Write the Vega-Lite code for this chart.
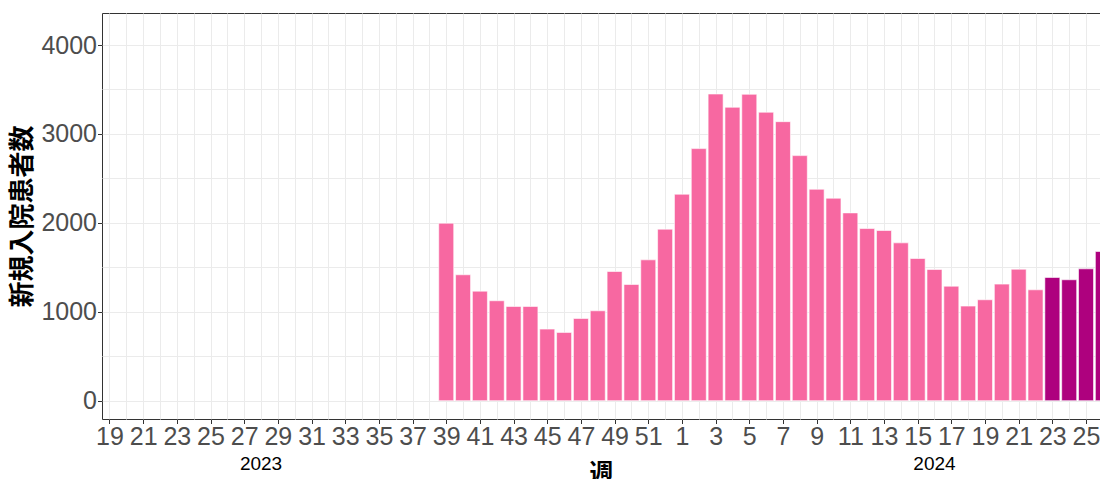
{
  "$schema": "https://vega.github.io/schema/vega-lite/v6.json",
  "autosize": "none",
  "width": 998,
  "height": 406,
  "padding": {"left": 102, "top": 13, "right": 0, "bottom": 60},
  "background": "white",
  "config": {
    "view": {"stroke": "#333333", "strokeWidth": 1},
    "axis": {
      "labelFont": "Liberation Sans",
      "labelFontSize": 25,
      "labelColor": "#4D4D4D",
      "gridColor": "#EBEBEB",
      "gridWidth": 1,
      "domain": false,
      "tickSize": 4.5,
      "tickWidth": 1
    }
  },
  "layer": [
    {
      "data": {
        "values": [
          {"date": "2023-10-01", "patients": 1996, "status": "確定"},
          {"date": "2023-10-08", "patients": 1416, "status": "確定"},
          {"date": "2023-10-15", "patients": 1232, "status": "確定"},
          {"date": "2023-10-22", "patients": 1124, "status": "確定"},
          {"date": "2023-10-29", "patients": 1060, "status": "確定"},
          {"date": "2023-11-05", "patients": 1060, "status": "確定"},
          {"date": "2023-11-12", "patients": 805, "status": "確定"},
          {"date": "2023-11-19", "patients": 768, "status": "確定"},
          {"date": "2023-11-26", "patients": 925, "status": "確定"},
          {"date": "2023-12-03", "patients": 1011, "status": "確定"},
          {"date": "2023-12-10", "patients": 1453, "status": "確定"},
          {"date": "2023-12-17", "patients": 1307, "status": "確定"},
          {"date": "2023-12-24", "patients": 1584, "status": "確定"},
          {"date": "2023-12-31", "patients": 1929, "status": "確定"},
          {"date": "2024-01-07", "patients": 2322, "status": "確定"},
          {"date": "2024-01-14", "patients": 2835, "status": "確定"},
          {"date": "2024-01-21", "patients": 3449, "status": "確定"},
          {"date": "2024-01-28", "patients": 3300, "status": "確定"},
          {"date": "2024-02-04", "patients": 3446, "status": "確定"},
          {"date": "2024-02-11", "patients": 3244, "status": "確定"},
          {"date": "2024-02-18", "patients": 3138, "status": "確定"},
          {"date": "2024-02-25", "patients": 2756, "status": "確定"},
          {"date": "2024-03-03", "patients": 2378, "status": "確定"},
          {"date": "2024-03-10", "patients": 2277, "status": "確定"},
          {"date": "2024-03-17", "patients": 2112, "status": "確定"},
          {"date": "2024-03-24", "patients": 1936, "status": "確定"},
          {"date": "2024-03-31", "patients": 1914, "status": "確定"},
          {"date": "2024-04-07", "patients": 1775, "status": "確定"},
          {"date": "2024-04-14", "patients": 1599, "status": "確定"},
          {"date": "2024-04-21", "patients": 1475, "status": "確定"},
          {"date": "2024-04-28", "patients": 1288, "status": "確定"},
          {"date": "2024-05-05", "patients": 1064, "status": "確定"},
          {"date": "2024-05-12", "patients": 1135, "status": "確定"},
          {"date": "2024-05-19", "patients": 1311, "status": "確定"},
          {"date": "2024-05-26", "patients": 1479, "status": "確定"},
          {"date": "2024-06-02", "patients": 1247, "status": "確定"},
          {"date": "2024-06-09", "patients": 1386, "status": "速報"},
          {"date": "2024-06-16", "patients": 1360, "status": "速報"},
          {"date": "2024-06-23", "patients": 1483, "status": "速報"},
          {"date": "2024-06-30", "patients": 1678, "status": "速報"}
        ]
      },
      "mark": {"type": "bar", "size": 15, "stroke": "white", "strokeWidth": 0.6, "clip": true},
      "encoding": {
        "x": {
          "field": "date",
          "type": "temporal",
          "scale": {
            "type": "utc",
            "nice": false,
            "padding": 0,
            "domain": [
              {"year": 2023, "month": 5, "date": 10, "hours": 21, "minutes": 14, "utc": true},
              {"year": 2024, "month": 6, "date": 28, "hours": 19, "minutes": 26, "utc": true}
            ]
          },
          "axis": {
            "tickCount": {"interval": "week", "step": 1},
            "labelExpr": "toNumber(utcFormat(datum.value, '%V')) % 2 === 1 ? '' + toNumber(utcFormat(datum.value, '%V')) : ''",
            "labelOverlap": false,
            "labelFlush": false,
            "labelPadding": 1,
            "tickColor": {"condition": {"test": "toNumber(utcFormat(datum.value, '%V')) % 2 === 0", "value": "transparent"}, "value": "#333333"},
            "title": "週",
            "titleFont": "Noto Sans CJK JP",
            "titleFontSize": 24,
            "titleFontWeight": "bold",
            "titleColor": "black",
            "titlePadding": 12
          }
        },
        "y": {
          "field": "patients",
          "type": "quantitative",
          "scale": {"domain": [-206, 4360], "nice": false, "zero": false},
          "axis": {
            "values": [0, 500, 1000, 1500, 2000, 2500, 3000, 3500, 4000],
            "format": "d",
            "labelExpr": "datum.value % 1000 === 0 ? datum.label : ''",
            "tickColor": {"condition": {"test": "datum.value % 1000 !== 0", "value": "transparent"}, "value": "#333333"},
            "labelPadding": 1,
            "title": "新規入院患者数",
            "titleFont": "Noto Sans CJK JP",
            "titleFontSize": 26,
            "titleFontWeight": "bold",
            "titleColor": "black",
            "titlePadding": 5
          }
        },
        "color": {
          "field": "status",
          "type": "nominal",
          "scale": {"domain": ["確定", "速報"], "range": ["#F768A1", "#AE017E"]},
          "legend": null
        }
      }
    },
    {
      "data": {
        "values": [
          {"year": "2023", "date": "2023-07-16"},
          {"year": "2024", "date": "2024-04-21"}
        ]
      },
      "mark": {"type": "text", "font": "Liberation Sans", "fontSize": 19, "color": "black", "baseline": "alphabetic", "align": "center", "clip": false},
      "encoding": {
        "x": {"field": "date", "type": "temporal"},
        "y": {"datum": -779},
        "text": {"field": "year"}
      }
    }
  ]
}
